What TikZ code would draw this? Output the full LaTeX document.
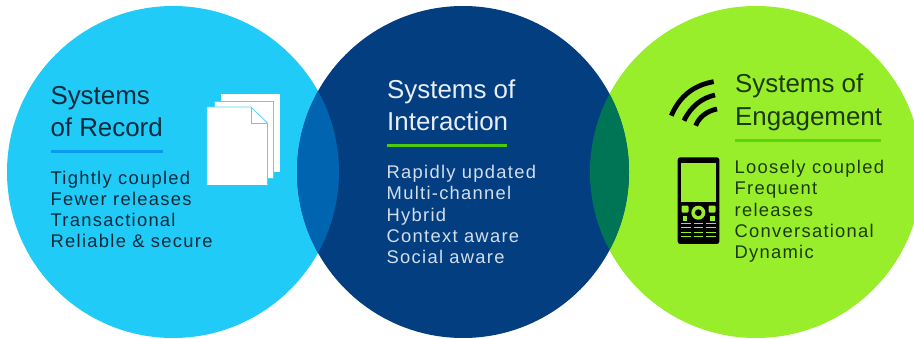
\documentclass[tikz,border=0pt]{standalone}
\usepackage{fontspec}
\setmainfont{Liberation Sans}
\newfontfamily\bodyfont[LetterSpace=7]{Liberation Sans}
\definecolor{cyanc}{HTML}{20CBF8}
\definecolor{navyc}{HTML}{033E81}
\definecolor{limec}{HTML}{98EE2A}
\definecolor{lensl}{HTML}{0064B0}
\definecolor{lensr}{HTML}{007556}
\definecolor{rulel}{HTML}{0A9BEF}
\definecolor{rulem}{HTML}{4CCB0E}
\definecolor{ruler}{HTML}{5CD60C}
\definecolor{pageedge}{HTML}{4AD5F9}
\definecolor{inkl}{HTML}{0A2A3C}
\definecolor{inkr}{HTML}{1C3A05}
\definecolor{inkm}{HTML}{E8EEF6}
\definecolor{inkmb}{HTML}{D3DEEC}
\tikzset{
  x=1pt,y=-1pt,
  title/.style={anchor=base west,inner sep=0pt,font=\fontsize{25.9}{30}\selectfont},
  body/.style={anchor=base west,inner sep=0pt,font=\bodyfont\fontsize{18.35}{21}\selectfont},
  page/.style={fill=white,draw=pageedge,line width=0.8pt},
  hrule/.style={line width=2.6pt},
  wave/.style={line width=4.8pt,draw=black},
  padk/.style={fill=limec},
  keybar/.style={draw=limec,line width=1pt},
}
\begin{document}
\begin{tikzpicture}
\useasboundingbox (0,0) rectangle (914,339);
\clip (0,0) rectangle (914,339);
% circles
\fill[cyanc] (173,172) circle[radius=166];
\fill[limec] (756,172) circle[radius=166];
\fill[navyc] (463,172) circle[radius=166];
\begin{scope}
  \clip (173,172) circle[radius=166];
  \fill[lensl] (463,172) circle[radius=166];
\end{scope}
\begin{scope}
  \clip (756,172) circle[radius=166];
  \fill[lensr] (463,172) circle[radius=166];
\end{scope}
% left text
\node[title,text=inkl] (lt1) at (50.3,105) {Systems};
\node[title,text=inkl] (lt2) at (50.3,137) {of Record};
\draw[hrule,rulel] (51,151.5) -- (163,151.5);
\node[body,text=inkl] (lb1) at (50.5,185) {Tightly coupled};
\node[body,text=inkl] (lb2) at (50.5,206) {Fewer releases};
\node[body,text=inkl] (lb3) at (50.5,227) {Transactional};
\node[body,text=inkl] (lb4) at (50.5,248) {Reliable \& secure};
% pages
\fill[white] (221,94) rectangle (280,172);
\draw[page] (214.5,101.5) rectangle (273.5,178);
\path[fill=white] (207,107) -- (251,107) -- (267.5,123) -- (267.5,185) -- (207,185) -- cycle;
\draw[pageedge,line width=0.8pt] (207,185) -- (207,107) -- (251,107) -- (267.5,123) -- (267.5,184.5);
\draw[pageedge,line width=0.8pt] (251,107) -- (251,123) -- (267.5,123);
% middle text
\node[title,text=inkm] (mt1) at (387,99) {Systems of};
\node[title,text=inkm] (mt2) at (387,131) {Interaction};
\draw[hrule,rulem] (387,145.5) -- (507,145.5);
\node[body,text=inkmb] (mb1) at (386.5,179) {Rapidly updated};
\node[body,text=inkmb] (mb2) at (386.5,200) {Multi-channel};
\node[body,text=inkmb] (mb3) at (386.5,222) {Hybrid};
\node[body,text=inkmb] (mb4) at (386.5,243) {Context aware};
\node[body,text=inkmb] (mb5) at (386.5,264) {Social aware};
% right text
\node[title,text=inkr] (rt1) at (735,93) {Systems of};
\node[title,text=inkr] (rt2) at (735,126) {Engagement};
\draw[hrule,ruler] (735,140.5) -- (881,140.5);
\node[body,text=inkr] (rb1) at (734.5,174) {Loosely coupled};
\node[body,text=inkr] (rb2) at (734.5,195) {Frequent};
\node[body,text=inkr] (rb3) at (734.5,217) {releases};
\node[body,text=inkr] (rb4) at (734.5,238) {Conversational};
\node[body,text=inkr] (rb5) at (734.5,259) {Dynamic};
% signal waves
\draw[wave] (671.3,115.7) .. controls (680,95) and (695,85) .. (713.7,81.7);
\draw[wave] (684,120.7) .. controls (691,106) and (702,98) .. (715,95);
\draw[wave] (695.7,125.7) .. controls (699,117) and (707,111) .. (717,109);
% phone
\fill[black,rounded corners=2.5pt] (677.7,157.3) rectangle (719.3,244);
\fill[limec] (681,162.7) rectangle (715.7,201.7);
\fill[padk,rounded corners=1pt] (681.5,205.7) rectangle (688.5,212.7);
\fill[padk,rounded corners=1pt] (708.5,205.7) rectangle (715.5,212.7);
\fill[padk] (682.7,216) rectangle (687.3,220.7);
\fill[padk] (710,216) rectangle (714.7,220.7);
\fill[padk] (698.3,212.7) circle[radius=7];
\fill[black] (698.3,212.7) circle[radius=3.4];
\foreach \yy in {223.7,227.9,232.2,236.4}{
  \draw[keybar] (681,\yy) -- (690.7,\yy);
  \draw[keybar] (694,\yy) -- (703.3,\yy);
  \draw[keybar] (706,\yy) -- (715.7,\yy);
}
\end{tikzpicture}
\end{document}
